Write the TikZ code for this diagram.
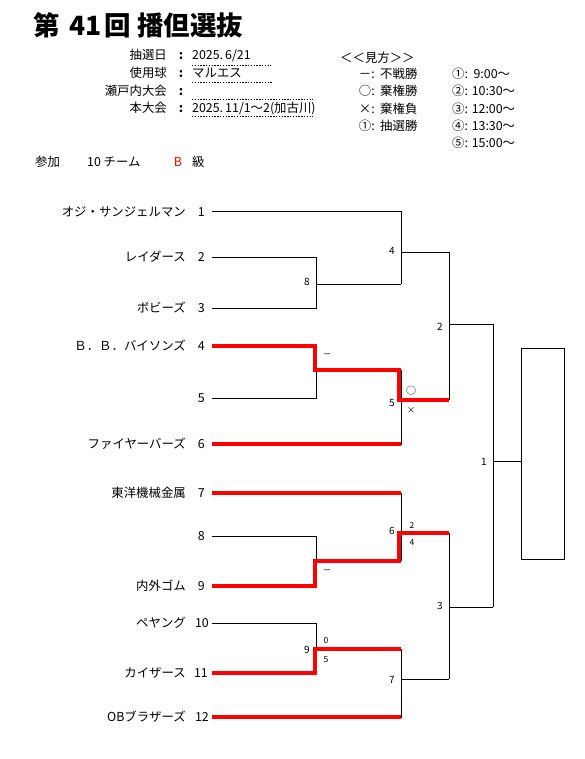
\documentclass[tikz,border=0pt]{standalone}
\usepackage{fontspec}
\setmainfont{Noto Sans CJK JP}
\begin{document}
\begin{tikzpicture}[x=1pt,y=-1pt,
  txt/.style={inner sep=0pt, font=\fontsize{12.4}{14}\selectfont},
  tn/.style={txt, anchor=base east},
  tw/.style={txt, anchor=base west},
  sml/.style={inner sep=0pt, font=\fontsize{10}{12}\selectfont, anchor=center},
  tiny/.style={inner sep=0pt, font=\fontsize{8.5}{10}\selectfont, anchor=center},
  bl/.style={line width=1pt, black},
  rd/.style={line width=4pt, red, line join=miter},
  dl/.style={line width=0.7pt, dash pattern=on 1.4pt off 1.4pt}]
\useasboundingbox (0,0) rectangle (585,759);

% ---------- title ----------
\begin{scope}[every node/.style={inner sep=0pt, anchor=base west, font=\fontsize{26.5}{30}\selectfont\bfseries}]
\node (ti1) at (33,36) {第};
\node (ti2) at (69,36) {41};
\node (ti3) at (104,36) {回};
\node (ti4) at (137,36) {播但選抜};
\end{scope}

% ---------- header info ----------
\node[tn] (k1) at (167,59.5) {抽選日};
\node[tn] (k2) at (167,77.5) {使用球};
\node[tn] (k3) at (167,95.5) {瀬戸内大会};
\node[tn] (k4) at (167,112.5) {本大会};
\node[txt, anchor=base, font=\fontsize{12.4}{14}\selectfont\bfseries] (c1) at (181,59.5) {:};
\node[txt, anchor=base, font=\fontsize{12.4}{14}\selectfont\bfseries] (c2) at (181,77.5) {:};
\node[txt, anchor=base, font=\fontsize{12.4}{14}\selectfont\bfseries] (c3) at (181,95.5) {:};
\node[txt, anchor=base, font=\fontsize{12.4}{14}\selectfont\bfseries] (c4) at (181,112.5) {:};
\node[tw] (v1) at (192,59.5) {2025.\,6/21};
\node[tw] (v2) at (192,77.5) {マルエス};
\node[tw] (v4) at (192,112.5) {2025.\,11/1～2(加古川)};
\draw[dl] (192,65) -- (271,65);
\draw[dl] (192,82) -- (272,82);
\draw[dl] (192,99) -- (313,99);
\draw[dl] (192,116) -- (313,116);

\node[tw] (sanka) at (35,166.5) {参加};
\node[tw] (num) at (87,166.5) {10 チーム};
\node[txt, anchor=base, text=red] (cls) at (178,166.5) {B};
\node[tw] (kyu) at (192,166.5) {級};

% ---------- legend ----------
\node[tw] (lg0) at (340,62.5) {＜＜見方＞＞};
\node[tn] (ls1) at (375,78.5) {－:};
\node[tn] (ls2) at (375,95.5) {○:};
\node[tn] (ls3) at (375,113.5) {×:};
\node[tn] (ls4) at (375,130.5) {①:};
\node[tw] (lt1) at (380,78.5) {不戦勝};
\node[tw] (lt2) at (380,95.5) {棄権勝};
\node[tw] (lt3) at (380,113.5) {棄権負};
\node[tw] (lt4) at (380,130.5) {抽選勝};
\node[tw] (lr1) at (452,78.5) {①:\ \ 9:00～};
\node[tw] (lr2) at (452,95.5) {②: 10:30～};
\node[tw] (lr3) at (452,113.5) {③: 12:00～};
\node[tw] (lr4) at (452,130.5) {④: 13:30～};
\node[tw] (lr5) at (452,147.5) {⑤: 15:00～};

% ---------- team names ----------
\node[tn] (n1) at (186,216.5) {オジ・サンジェルマン};
\node[tn] (n2) at (186,261.5) {レイダース};
\node[tn] (n3) at (186,312.5) {ボビーズ};
\node[tn] (n4) at (186,350.5) {Ｂ．Ｂ．バイソンズ};
\node[tn] (n6) at (186,448.5) {ファイヤーバーズ};
\node[tn] (n7) at (186,497.5) {東洋機械金属};
\node[tn] (n9) at (186,590.5) {内外ゴム};
\node[tn] (n10) at (186,627.5) {ペヤング};
\node[tn] (n11) at (186,677.5) {カイザース};
\node[tn] (n12) at (186,721.5) {OBブラザーズ};
\node[tn] (s1) at (205,216.5) {1};
\node[tn] (s2) at (205,261.5) {2};
\node[tn] (s3) at (205,312.5) {3};
\node[tn] (s4) at (205,350.5) {4};
\node[tn] (s5) at (205,402.5) {5};
\node[tn] (s6) at (205,448.5) {6};
\node[tn] (s7) at (205,497.5) {7};
\node[tn] (s8) at (205,540.5) {8};
\node[tn] (s9) at (205,590.5) {9};
\node[tn] (s10) at (209,627.5) {10};
\node[tn] (s11) at (208,677.5) {11};
\node[tn] (s12) at (209,721.5) {12};

% ---------- coordinates ----------
\coordinate (a1) at (212,212);  \coordinate (b1) at (401,212);
\coordinate (a2) at (212,257);  \coordinate (b2) at (316,257);
\coordinate (a3) at (212,308);  \coordinate (b3) at (316,308);
\coordinate (a4) at (212,346);  \coordinate (b4) at (316,346);
\coordinate (a5) at (212,398);  \coordinate (b5) at (316,398);
\coordinate (a6) at (212,444);  \coordinate (b6) at (401,444);
\coordinate (a7) at (212,493);  \coordinate (b7) at (401,493);
\coordinate (a8) at (212,536);  \coordinate (b8) at (316,536);
\coordinate (a9) at (212,586);  \coordinate (b9) at (316,586);
\coordinate (a10) at (212,623); \coordinate (b10) at (316,623);
\coordinate (a11) at (212,673); \coordinate (b11) at (316,673);
\coordinate (a12) at (212,717); \coordinate (b12) at (401,717);

\coordinate (m8) at (316,284);  \coordinate (m8e) at (401,284);
\coordinate (mA) at (316,370);  \coordinate (mAe) at (401,370);
\coordinate (m4) at (401,252);  \coordinate (m4e) at (449,252);
\coordinate (m5) at (401,400);  \coordinate (m5e) at (449,400);
\coordinate (m2) at (449,324);  \coordinate (m2e) at (493,324);
\coordinate (mB) at (316,561);  \coordinate (mBe) at (401,561);
\coordinate (m9) at (316,649);  \coordinate (m9e) at (401,649);
\coordinate (m6) at (401,533);  \coordinate (m6e) at (449,533);
\coordinate (m7) at (401,679);  \coordinate (m7e) at (449,679);
\coordinate (m3) at (449,607);  \coordinate (m3e) at (493,607);
\coordinate (m1) at (493,461);

\node[draw, line width=1pt, minimum width=43pt, minimum height=211pt, inner sep=0pt] (champ) at (542.5,453.5) {};

% ---------- black bracket ----------
\draw[bl] (a1) -- (b1) -- (m8e);
\draw[bl] (a2) -- (b2) -- (b3) -- (a3);
\draw[bl] (m8) -- (m8e);
\draw[bl] (m4) -- (m4e) -- (m5e);
\draw[bl] (a4) -- (b4) -- (b5) -- (a5);
\draw[bl] (mA) -- (mAe) -- (b6) -- (a6);
\draw[bl] (m5) -- (m5e);
\draw[bl] (m2) -- (m2e) -- (m3e);
\draw[bl] (a7) -- (b7) -- (mBe);
\draw[bl] (a8) -- (b8) -- (b9) -- (a9);
\draw[bl] (mB) -- (mBe);
\draw[bl] (m6) -- (m6e) -- (m7e);
\draw[bl] (a10) -- (b10) -- (b11) -- (a11);
\draw[bl] (m9) -- (m9e) -- (b12) -- (a12);
\draw[bl] (m7) -- (m7e);
\draw[bl] (m3) -- (m3e);
\draw[bl] (m1) -- (champ.west |- m1);

% ---------- red winner lines ----------
\draw[rd] (a4) -- (315,346) -- (315,370) -- (399,370) -- (399,400) -- (m5e);
\draw[rd] (a6) -- (b6);
\draw[rd] (a7) -- (b7);
\draw[rd] (a9) -- (315,586) -- (315,561) -- (399,561) -- (399,533) -- (m6e);
\draw[rd] (a11) -- (315,673) -- (315,649) -- (m9e);
\draw[rd] (a12) -- (b12);

% ---------- match labels ----------
\node[sml] (l8) at (307,282) {8};
\node[sml] (l4) at (392,251) {4};
\node[sml] (l2) at (440,327) {2};
\node[tiny] (lA) at (327,356) {－};
\node[sml] (lo) at (411,391) {○};
\node[sml] (l5) at (392,403) {5};
\node[tiny] (lx) at (411,411) {×};
\node[sml] (l1) at (484,462) {1};
\node[sml] (l6) at (392,531) {6};
\node[tiny] (l6a) at (412,525) {2};
\node[tiny] (l6b) at (412,542) {4};
\node[tiny] (lB) at (327,572) {－};
\node[sml] (l9) at (307,650) {9};
\node[tiny] (l9a) at (326,640) {0};
\node[tiny] (l9b) at (326,660) {5};
\node[sml] (l7) at (392,680) {7};
\node[sml] (l3) at (440,606) {3};
\end{tikzpicture}
\end{document}
